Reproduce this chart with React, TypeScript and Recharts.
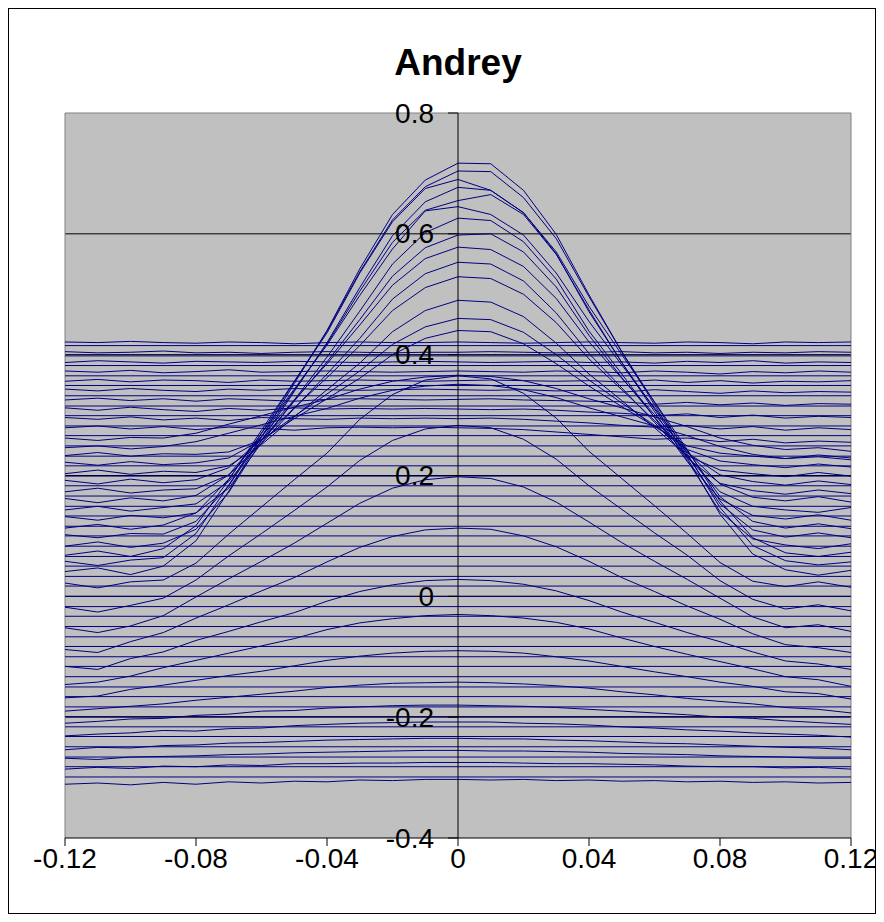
import { LineChart, Line, XAxis, YAxis, CartesianGrid, ReferenceLine } from 'recharts';

const FONT = "'Liberation Sans', Arial, sans-serif";
const NAVY = '#000080';

// sample positions along the x axis
const xs = [-0.12, -0.11, -0.1, -0.09, -0.08, -0.07, -0.06, -0.05, -0.04, -0.03, -0.02, -0.01, 0,
  0.01, 0.02, 0.03, 0.04, 0.05, 0.06, 0.07, 0.08, 0.09, 0.1, 0.11, 0.12];

const xTicks = [-0.12, -0.08, -0.04, 0, 0.04, 0.08, 0.12];
const yTicks = [-0.4, -0.2, 0, 0.2, 0.4, 0.6, 0.8];
const gridValues = [-0.2, 0, 0.2, 0.4, 0.6];

// straight horizontal reference lines
const referenceLevels = [0.415, 0.398, 0.382, 0.365, 0.349, 0.332, 0.315, 0.299, 0.282, 0.266, 0.249,
  0.232, 0.216, 0.199, 0.183, 0.166, 0.149, 0.133, 0.116, 0.1, 0.083, 0.066, 0.05, 0.033, 0.017, 0,
  -0.017, -0.033, -0.05, -0.067, -0.083, -0.1, -0.116, -0.133, -0.15, -0.166, -0.183, -0.199, -0.216,
  -0.232, -0.249, -0.266, -0.282, -0.299];

// top profiles, no hump
const flatProfiles = [
  [0.421, 0.42, 0.422, 0.42, 0.419, 0.421, 0.42, 0.418, 0.42, 0.421, 0.42, 0.42, 0.421, 0.42, 0.419, 0.42, 0.421, 0.42, 0.419, 0.421, 0.42, 0.418, 0.421, 0.42, 0.421],
  [0.405, 0.403, 0.404, 0.406, 0.403, 0.404, 0.402, 0.404, 0.405, 0.404, 0.403, 0.404, 0.404, 0.405, 0.404, 0.403, 0.404, 0.405, 0.403, 0.404, 0.402, 0.404, 0.403, 0.405, 0.404],
  [0.387, 0.39, 0.388, 0.386, 0.389, 0.388, 0.387, 0.389, 0.388, 0.387, 0.388, 0.389, 0.388, 0.387, 0.388, 0.389, 0.387, 0.388, 0.386, 0.389, 0.387, 0.39, 0.386, 0.388, 0.387],
  [0.373, 0.371, 0.374, 0.37, 0.372, 0.375, 0.371, 0.372, 0.373, 0.372, 0.371, 0.372, 0.373, 0.372, 0.371, 0.373, 0.372, 0.37, 0.373, 0.371, 0.368, 0.372, 0.37, 0.373, 0.371],
  [0.356, 0.359, 0.355, 0.358, 0.357, 0.354, 0.358, 0.356, 0.357, 0.358, 0.357, 0.356, 0.357, 0.358, 0.357, 0.356, 0.357, 0.355, 0.358, 0.354, 0.357, 0.353, 0.356, 0.355, 0.357],
  [0.343, 0.34, 0.344, 0.341, 0.339, 0.343, 0.341, 0.344, 0.342, 0.341, 0.342, 0.343, 0.342, 0.341, 0.342, 0.34, 0.341, 0.338, 0.342, 0.339, 0.336, 0.34, 0.337, 0.339, 0.338],
  [0.325, 0.328, 0.324, 0.327, 0.323, 0.327, 0.325, 0.323, 0.326, 0.327, 0.326, 0.325, 0.326, 0.327, 0.325, 0.324, 0.323, 0.322, 0.318, 0.321, 0.317, 0.32, 0.316, 0.319, 0.318],
  [0.312, 0.308, 0.313, 0.309, 0.306, 0.311, 0.308, 0.312, 0.31, 0.311, 0.31, 0.311, 0.31, 0.309, 0.31, 0.308, 0.305, 0.303, 0.299, 0.302, 0.296, 0.3, 0.295, 0.298, 0.296],
  [0.296, 0.293, 0.297, 0.292, 0.295, 0.291, 0.296, 0.294, 0.293, 0.295, 0.294, 0.295, 0.294, 0.295, 0.293, 0.29, 0.287, 0.283, 0.28, 0.283, 0.277, 0.281, 0.275, 0.279, 0.276],
  [0.279, 0.282, 0.277, 0.281, 0.276, 0.28, 0.278, 0.275, 0.279, 0.28, 0.279, 0.28, 0.279, 0.278, 0.276, 0.272, 0.268, 0.264, 0.26, 0.262, 0.256, 0.26, 0.254, 0.257, 0.255],
];

// low broad arches
const archProfiles = [
  [0.262, 0.258, 0.263, 0.262, 0.27, 0.285, 0.299, 0.313, 0.326, 0.343, 0.356, 0.363, 0.366, 0.364, 0.357, 0.344, 0.327, 0.312, 0.297, 0.281, 0.262, 0.25, 0.243, 0.246, 0.24],
  [0.246, 0.249, 0.244, 0.248, 0.256, 0.27, 0.284, 0.298, 0.311, 0.328, 0.341, 0.348, 0.351, 0.349, 0.342, 0.329, 0.312, 0.297, 0.282, 0.266, 0.248, 0.235, 0.228, 0.231, 0.226],
];

// tall humps
const tallProfiles = [
  [0.041, 0.047, 0.036, 0.05, 0.092, 0.174, 0.264, 0.352, 0.44, 0.542, 0.632, 0.689, 0.717, 0.716, 0.672, 0.599, 0.499, 0.405, 0.317, 0.229, 0.136, 0.07, 0.044, 0.035, 0.043],
  [0.058, 0.051, 0.06, 0.064, 0.104, 0.184, 0.27, 0.355, 0.439, 0.537, 0.623, 0.678, 0.704, 0.703, 0.66, 0.592, 0.496, 0.405, 0.321, 0.236, 0.147, 0.084, 0.059, 0.052, 0.057],
  [0.068, 0.075, 0.066, 0.079, 0.117, 0.193, 0.275, 0.356, 0.436, 0.535, 0.62, 0.675, 0.69, 0.672, 0.635, 0.57, 0.48, 0.4, 0.322, 0.243, 0.158, 0.097, 0.072, 0.066, 0.073],
  [0.083, 0.09, 0.081, 0.088, 0.111, 0.172, 0.258, 0.339, 0.42, 0.511, 0.597, 0.653, 0.677, 0.672, 0.635, 0.567, 0.471, 0.387, 0.306, 0.225, 0.14, 0.095, 0.085, 0.079, 0.087],
  [0.102, 0.097, 0.104, 0.103, 0.124, 0.183, 0.264, 0.341, 0.418, 0.505, 0.586, 0.639, 0.655, 0.665, 0.632, 0.566, 0.474, 0.387, 0.31, 0.233, 0.153, 0.11, 0.098, 0.105, 0.097],
  [0.113, 0.119, 0.111, 0.118, 0.138, 0.194, 0.27, 0.343, 0.416, 0.498, 0.575, 0.638, 0.645, 0.632, 0.598, 0.535, 0.455, 0.383, 0.312, 0.241, 0.165, 0.124, 0.113, 0.12, 0.112],
  [0.132, 0.126, 0.134, 0.13, 0.138, 0.179, 0.254, 0.325, 0.396, 0.472, 0.55, 0.602, 0.626, 0.622, 0.587, 0.525, 0.439, 0.368, 0.296, 0.223, 0.161, 0.134, 0.128, 0.135, 0.126],
  [0.143, 0.149, 0.141, 0.147, 0.153, 0.19, 0.258, 0.323, 0.388, 0.458, 0.53, 0.577, 0.598, 0.6, 0.57, 0.512, 0.432, 0.362, 0.297, 0.231, 0.173, 0.149, 0.143, 0.139, 0.147],
  [0.162, 0.155, 0.163, 0.158, 0.167, 0.201, 0.265, 0.325, 0.385, 0.449, 0.515, 0.559, 0.578, 0.574, 0.546, 0.493, 0.421, 0.361, 0.301, 0.239, 0.186, 0.164, 0.158, 0.165, 0.156],
  [0.173, 0.179, 0.171, 0.176, 0.178, 0.201, 0.253, 0.311, 0.368, 0.427, 0.492, 0.534, 0.553, 0.55, 0.522, 0.469, 0.402, 0.345, 0.288, 0.229, 0.187, 0.175, 0.169, 0.176, 0.17],
  [0.192, 0.186, 0.194, 0.188, 0.193, 0.213, 0.26, 0.312, 0.362, 0.415, 0.473, 0.511, 0.529, 0.526, 0.5, 0.453, 0.393, 0.342, 0.291, 0.238, 0.201, 0.19, 0.184, 0.191, 0.185],
  [0.203, 0.209, 0.202, 0.207, 0.205, 0.216, 0.251, 0.297, 0.342, 0.386, 0.438, 0.473, 0.49, 0.487, 0.463, 0.419, 0.368, 0.324, 0.279, 0.233, 0.209, 0.203, 0.198, 0.205, 0.199],
  [0.222, 0.217, 0.223, 0.218, 0.221, 0.229, 0.259, 0.298, 0.335, 0.373, 0.417, 0.446, 0.46, 0.458, 0.437, 0.4, 0.358, 0.32, 0.283, 0.243, 0.224, 0.218, 0.213, 0.219, 0.214],
  [0.233, 0.238, 0.232, 0.236, 0.235, 0.239, 0.259, 0.294, 0.327, 0.361, 0.4, 0.427, 0.44, 0.438, 0.418, 0.385, 0.348, 0.314, 0.281, 0.249, 0.237, 0.232, 0.228, 0.234, 0.229],
];

// lower, wider humps
const lowerProfiles = [
  [0.022, 0.014, 0.024, 0.027, 0.055, 0.103, 0.148, 0.193, 0.237, 0.293, 0.334, 0.358, 0.365, 0.36, 0.336, 0.295, 0.24, 0.195, 0.15, 0.104, 0.056, 0.025, 0.016, 0.024, 0.015],
  [-0.018, -0.026, -0.015, -0.003, 0.027, 0.067, 0.104, 0.142, 0.181, 0.225, 0.258, 0.277, 0.283, 0.279, 0.26, 0.227, 0.183, 0.144, 0.105, 0.068, 0.026, -0.005, -0.021, -0.014, -0.024],
  [-0.052, -0.06, -0.049, -0.032, -0.001, 0.029, 0.058, 0.088, 0.121, 0.154, 0.179, 0.193, 0.198, 0.195, 0.181, 0.156, 0.123, 0.089, 0.058, 0.028, -0.003, -0.034, -0.052, -0.047, -0.058],
  [-0.088, -0.093, -0.075, -0.06, -0.036, -0.014, 0.009, 0.031, 0.057, 0.081, 0.099, 0.11, 0.113, 0.111, 0.1, 0.082, 0.058, 0.031, 0.008, -0.016, -0.038, -0.062, -0.08, -0.085, -0.093],
  [-0.116, -0.121, -0.103, -0.092, -0.073, -0.058, -0.042, -0.027, -0.008, 0.008, 0.019, 0.026, 0.028, 0.026, 0.02, 0.009, -0.007, -0.026, -0.043, -0.06, -0.075, -0.092, -0.107, -0.112, -0.121],
  [-0.146, -0.142, -0.132, -0.118, -0.106, -0.094, -0.082, -0.07, -0.055, -0.044, -0.037, -0.032, -0.03, -0.032, -0.036, -0.043, -0.054, -0.069, -0.083, -0.096, -0.108, -0.12, -0.133, -0.138, -0.149],
  [-0.168, -0.165, -0.154, -0.147, -0.139, -0.131, -0.124, -0.115, -0.106, -0.099, -0.094, -0.091, -0.09, -0.091, -0.094, -0.1, -0.107, -0.116, -0.125, -0.133, -0.142, -0.149, -0.158, -0.161, -0.17],
  [-0.19, -0.186, -0.182, -0.178, -0.172, -0.167, -0.162, -0.157, -0.151, -0.147, -0.144, -0.143, -0.142, -0.143, -0.145, -0.148, -0.152, -0.158, -0.163, -0.169, -0.174, -0.178, -0.184, -0.187, -0.193],
  [-0.21, -0.207, -0.203, -0.202, -0.197, -0.195, -0.19, -0.189, -0.185, -0.183, -0.181, -0.18, -0.18, -0.181, -0.182, -0.184, -0.187, -0.19, -0.193, -0.196, -0.2, -0.202, -0.206, -0.209, -0.212],
  [-0.231, -0.228, -0.226, -0.222, -0.223, -0.219, -0.218, -0.214, -0.212, -0.21, -0.209, -0.208, -0.208, -0.208, -0.21, -0.211, -0.213, -0.216, -0.218, -0.221, -0.223, -0.226, -0.228, -0.23, -0.233],
  [-0.254, -0.25, -0.251, -0.247, -0.246, -0.243, -0.242, -0.24, -0.238, -0.237, -0.236, -0.235, -0.235, -0.236, -0.236, -0.238, -0.239, -0.241, -0.243, -0.244, -0.246, -0.248, -0.25, -0.251, -0.254],
  [-0.268, -0.27, -0.266, -0.265, -0.264, -0.262, -0.261, -0.259, -0.258, -0.257, -0.256, -0.255, -0.255, -0.256, -0.256, -0.257, -0.258, -0.26, -0.261, -0.262, -0.264, -0.265, -0.266, -0.268, -0.268],
  [-0.286, -0.283, -0.285, -0.281, -0.282, -0.279, -0.28, -0.277, -0.277, -0.276, -0.276, -0.275, -0.275, -0.275, -0.276, -0.277, -0.277, -0.278, -0.279, -0.281, -0.282, -0.282, -0.284, -0.283, -0.286],
  [-0.311, -0.309, -0.312, -0.308, -0.311, -0.307, -0.309, -0.306, -0.307, -0.304, -0.305, -0.303, -0.303, -0.304, -0.303, -0.305, -0.304, -0.306, -0.305, -0.307, -0.306, -0.308, -0.307, -0.309, -0.308],
];

const profiles = [...flatProfiles, ...archProfiles, ...tallProfiles, ...lowerProfiles].map((vals) =>
  vals.map((y, i) => ({ x: xs[i], y }))
);
const levelLines = referenceLevels.map((v) => [
  { x: xs[0], y: v },
  { x: xs[xs.length - 1], y: v },
]);

const W = 866;
const H = 904;
const CHART_W = W + 8; // a little wider so the last x label is not clipped
const margin = { top: 104, right: 32, bottom: 15, left: 55 };
const plotLeft = 56;
const zeroX = plotLeft + (CHART_W - plotLeft - margin.right) / 2;

// y labels sit next to the vertical axis at x = 0
const renderYTick = (props: any) => {
  const { y, payload } = props;
  return (
    <g>
      <line x1={zeroX - 10} x2={zeroX} y1={y} y2={y} stroke="#000" />
      <text x={zeroX - 24} y={y} textAnchor="end" dominantBaseline="central" fontSize={28} fontFamily={FONT} fill="#000">
        {String(payload.value)}
      </text>
    </g>
  );
};

export default function App() {
  return (
    <div style={{ position: 'relative', width: W + 2, height: H + 2, background: '#fff' }}>
      <div style={{ position: 'absolute', left: 0, top: 0, width: W, height: H, border: '1px solid #000' }} />
      <div style={{ position: 'absolute', left: zeroX - 199, width: 400, top: 34, textAlign: 'center', fontFamily: FONT, fontWeight: 'bold', fontSize: 37, lineHeight: '42px' }}>
        Andrey
      </div>
      <div style={{ position: 'absolute', left: 1, top: 1 }}>
        <LineChart width={CHART_W} height={H} margin={margin}>
          <CartesianGrid vertical={false} horizontalValues={gridValues} stroke="#000" fill="#c0c0c0" fillOpacity={1} />
          <XAxis
            type="number"
            dataKey="x"
            domain={[-0.12, 0.12]}
            ticks={xTicks}
            interval={0}
            height={60}
            tickSize={8}
            axisLine={{ stroke: '#000' }}
            tickLine={{ stroke: '#000' }}
            tick={{ fill: '#000', fontSize: 28, fontFamily: FONT }}
          />
          <YAxis
            type="number"
            dataKey="y"
            domain={[-0.4, 0.8]}
            ticks={yTicks}
            interval={0}
            width={1}
            axisLine={false}
            tickLine={false}
            tick={renderYTick}
          />
          <ReferenceLine x={-0.12} stroke="#808080" />
          <ReferenceLine x={0.12} stroke="#808080" />
          <ReferenceLine y={0.8} stroke="#808080" />
          {levelLines.map((d, i) => (
            <Line key={'lvl' + i} data={d} dataKey="y" stroke={NAVY} strokeWidth={1} dot={false} isAnimationActive={false} />
          ))}
          {profiles.map((d, i) => (
            <Line key={'p' + i} data={d} dataKey="y" stroke={NAVY} strokeWidth={1} dot={false} isAnimationActive={false} />
          ))}
          <ReferenceLine x={0} stroke="#000" />
        </LineChart>
      </div>
    </div>
  );
}
